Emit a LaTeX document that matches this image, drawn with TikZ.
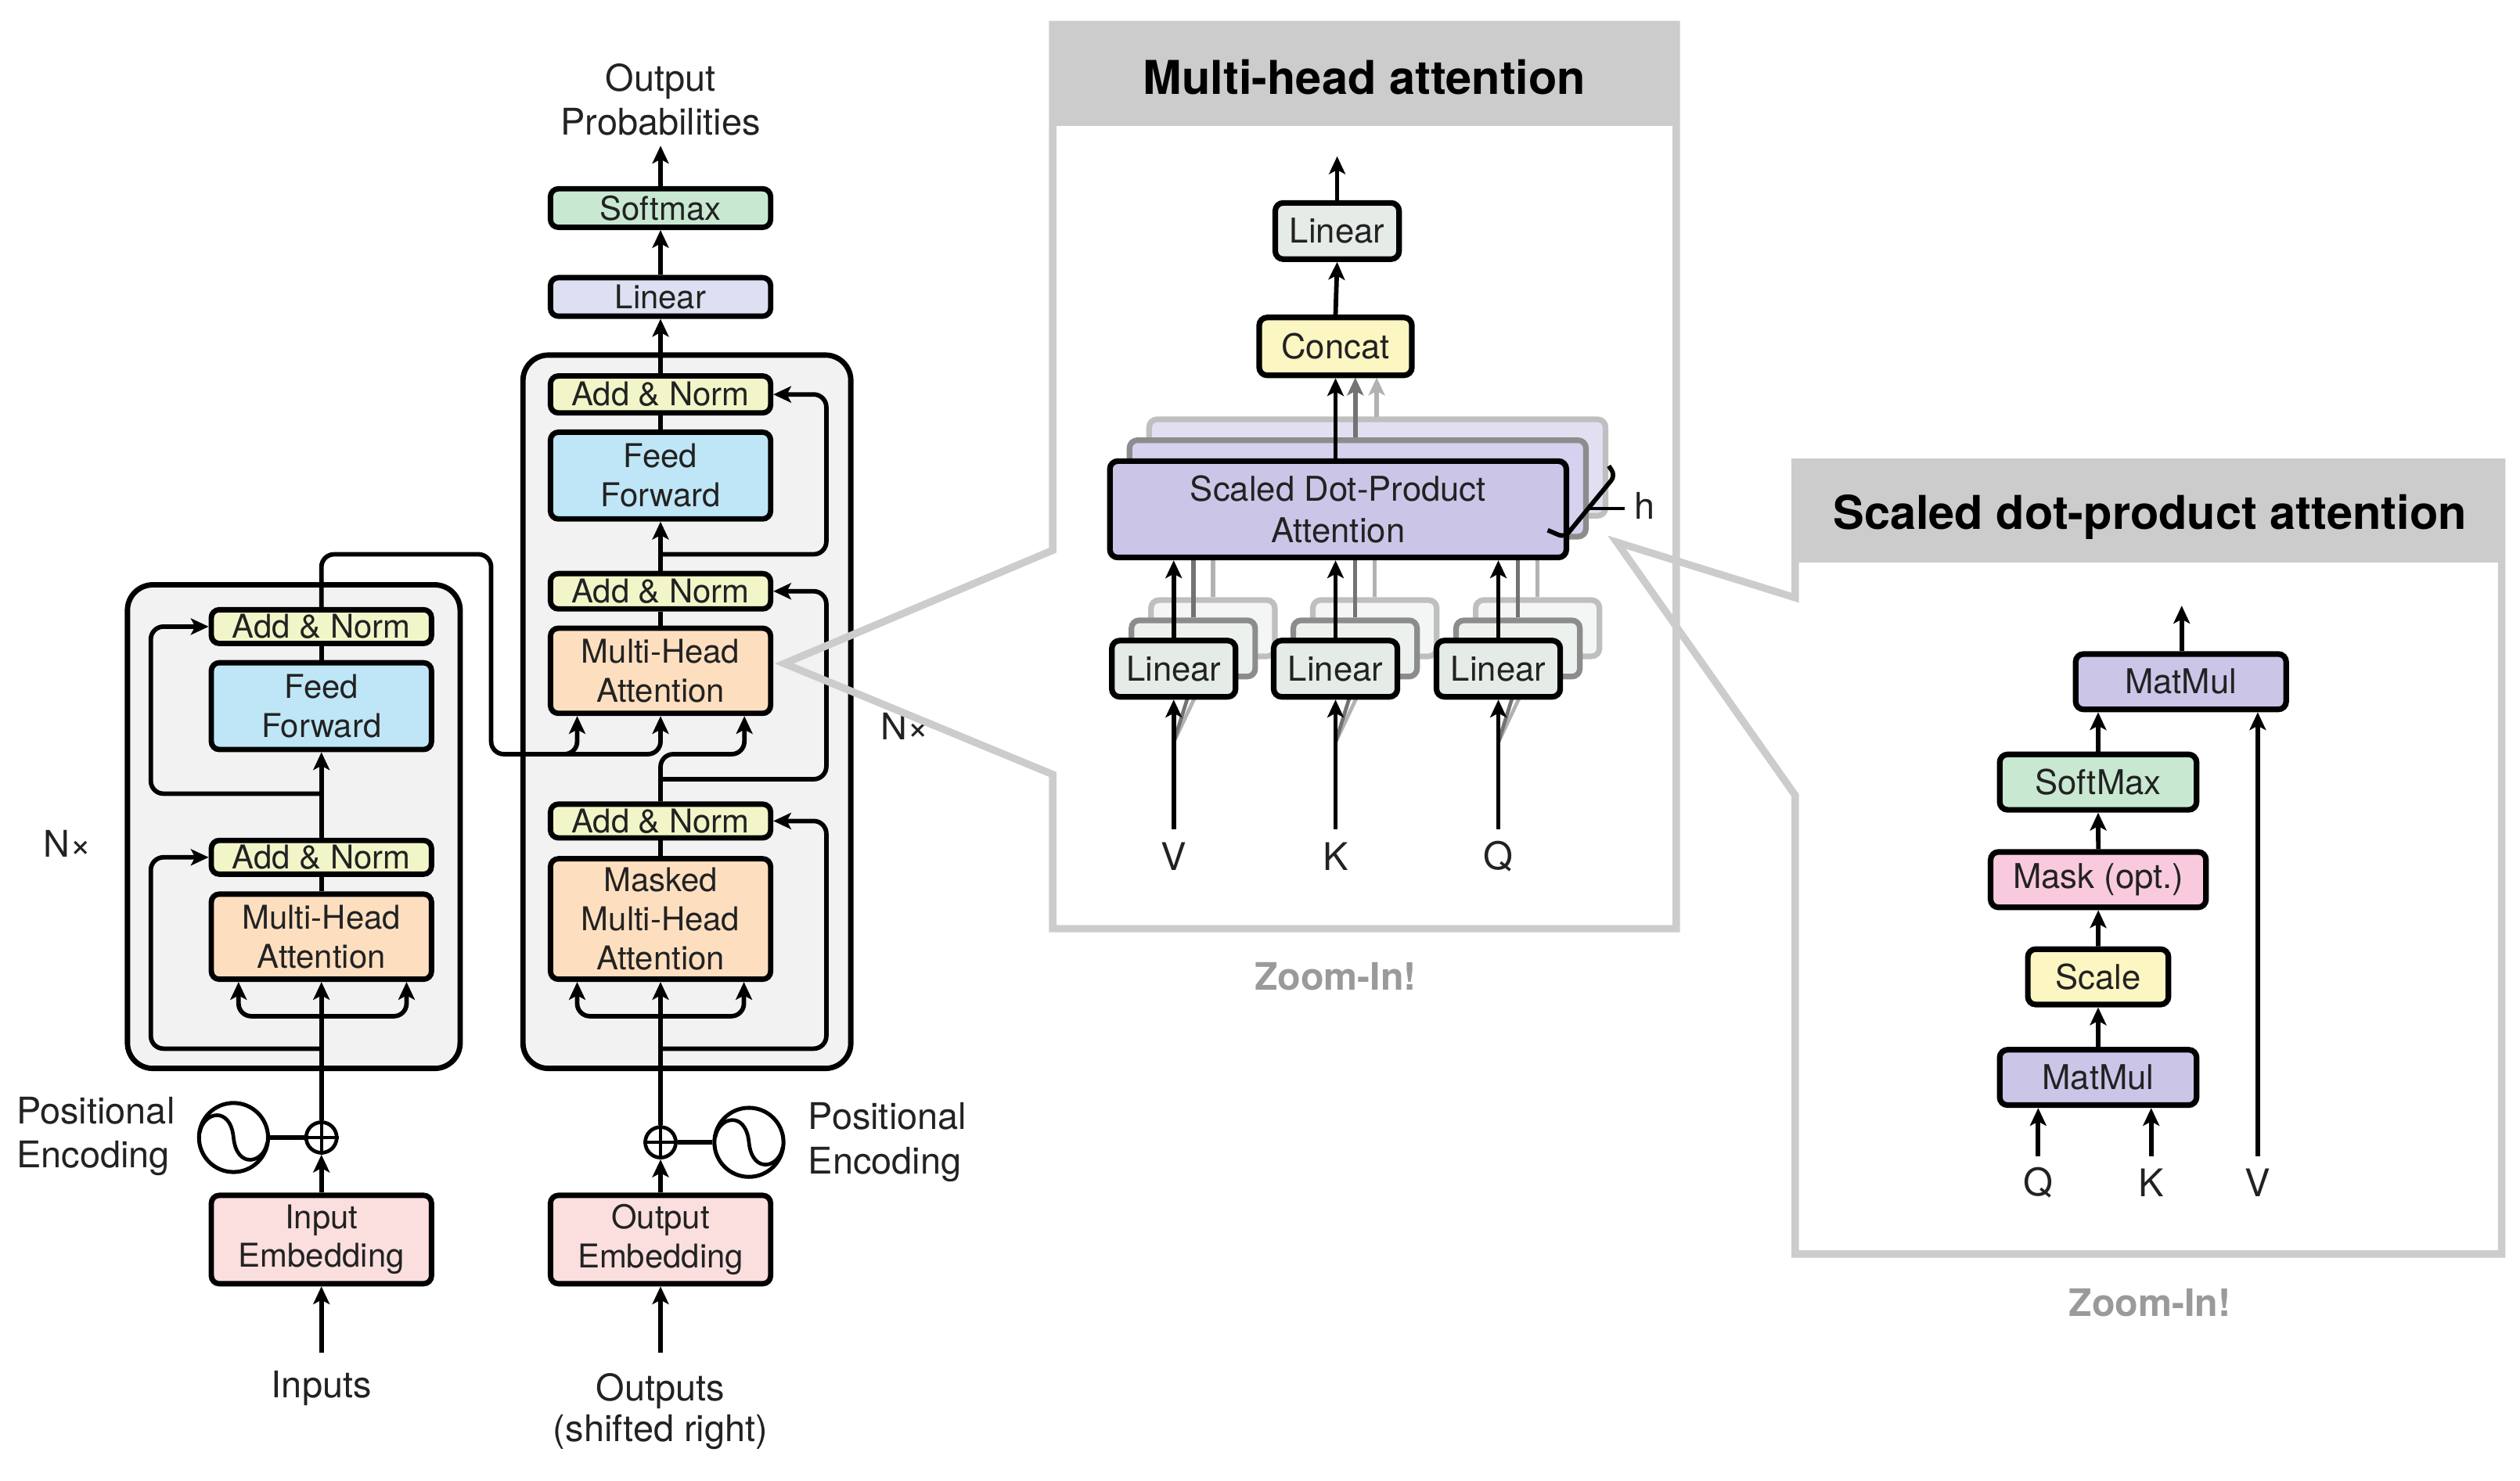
\documentclass[tikz,border=0pt]{standalone}
\usepackage{fontspec}
\setmainfont{TeX Gyre Heros}
\usetikzlibrary{arrows.meta,calc}
\definecolor{anC}{HTML}{F2F5C8}
\definecolor{ffC}{HTML}{BFE6F6}
\definecolor{mhC}{HTML}{FDDFC0}
\definecolor{emC}{HTML}{FBDEDE}
\definecolor{liC}{HTML}{DDE0F2}
\definecolor{smC}{HTML}{C8E8D2}
\definecolor{bgC}{HTML}{F2F2F2}
\definecolor{glC}{HTML}{E5EBE7}
\definecolor{ccC}{HTML}{FCF6C2}
\definecolor{sdC}{HTML}{CBC5E8}
\definecolor{sd2C}{HTML}{D6D1EE}
\definecolor{sd3C}{HTML}{E2DFF3}
\definecolor{gl2C}{HTML}{EDF1EE}
\definecolor{gl3C}{HTML}{F4F6F5}
\definecolor{mkC}{HTML}{F9CADD}
\definecolor{pnC}{HTML}{CCCCCC}
\definecolor{zmC}{HTML}{9A9A9A}
\definecolor{txC}{HTML}{222222}
\begin{document}
\begin{tikzpicture}[x=0.02cm,y=-0.02cm,
  blk/.style={draw=black, line width=1.9pt, rounded corners=2.8pt, inner sep=0pt, align=center, text=txC, font=\fontsize{11.6}{13.8}\selectfont},
  pblk/.style={blk, line width=2pt, font=\fontsize{12.1}{14.7}\selectfont},
  sh2/.style={pblk, draw=black!45},
  sh3/.style={pblk, draw=black!25},
  sz/.style 2 args={minimum width=#1*0.02cm, minimum height=#2*0.02cm},
  big/.style={draw=black, line width=1.9pt, rounded corners=9pt, fill=bgC, inner sep=0pt},
  lbl/.style={inner sep=0pt, align=center, text=txC, font=\fontsize{13}{15.6}\selectfont},
  ttl/.style={inner sep=0pt, font=\fontsize{16.5}{19}\selectfont\bfseries},
  zmt/.style={inner sep=0pt, text=zmC, font=\fontsize{13.4}{16}\selectfont\bfseries},
  tip/.style={-{Stealth[length=6.3pt,width=5.8pt,inset=1.5pt]}},
  conn/.style={line width=1.6pt, rounded corners=4.5pt},
  arr/.style={conn, tip},
  garr2/.style={line width=1.6pt, draw=black!55, tip},
  garr3/.style={line width=1.6pt, draw=black!30, tip},
  plusc/.style={draw=black, circle, line width=1.3pt, minimum size=0.38cm, inner sep=0pt},
  pec/.style={draw=black, circle, line width=1.4pt, minimum size=0.86cm, inner sep=0pt},
  panel/.style={draw=pnC, line width=2.6pt, line join=miter}
]
\useasboundingbox (0,0) rectangle (1568,921.8);
\fill[white] (0,0) rectangle (1568,921.8);

% ---------------- Encoder ----------------
\node[big, sz={207}{301}] (encBox) at (182.8,514.5) {};
\node[blk, fill=anC, sz={137}{21}] (encAN2) at (200,390) {Add \& Norm};
\node[blk, fill=ffC, sz={137}{54}] (encFF) at (200,439.5) {Feed\\Forward};
\node[blk, fill=anC, sz={137}{21}] (encAN1) at (200,533.6) {Add \& Norm};
\node[blk, fill=mhC, sz={137}{53}] (encMHA) at (200,583) {Multi-Head\\Attention};
\node[blk, fill=emC, sz={137}{55}] (encEmb) at (200,771.5) {Input\\Embedding};
\node[plusc] (encPlus) at (200,708) {};
\node[pec] (encPE) at (145.3,708) {};
\draw[line width=1pt] (encPlus.north) -- (encPlus.south) (encPlus.west) -- (encPlus.east);
\draw[line width=1.3pt] ($(encPE)+(-21,-3)$) .. controls ($(encPE)+(-19,-16)$) and ($(encPE)+(-2,-20)$) .. (encPE.center) .. controls ($(encPE)+(2,20)$) and ($(encPE)+(19,16)$) .. ($(encPE)+(21,3)$);
\node[lbl] (inLbl) at (200,864) {Inputs};
\node[lbl, anchor=west, align=left] (encPEl) at (10,707.3) {Positional\\Encoding};
\node[lbl] (encNx) at (42,525) {N×};

\coordinate (inS) at (200,842);
\draw[arr] (inS) -- (encEmb.south);
\draw[arr] (encEmb.north) -- (encPlus.south);
\draw[line width=1.7pt] (encPE.east) -- (encPlus.west);
\draw[arr] (encPlus.north) -- (encMHA.south);
\coordinate (encJ1) at (200,632.5);
\draw[arr] (encJ1) -| ([xshift=0.372cm]encMHA.south west);
\draw[arr] (encJ1) -| ([xshift=-0.344cm]encMHA.south east);
\coordinate (encJ2) at (200,652.7);
\draw[arr] (encJ2) -| ($(encAN1.west)+(-36,0)$) -- (encAN1.west);
\draw[conn] (encMHA.north) -- (encAN1.south);
\draw[arr] (encAN1.north) -- (encFF.south);
\coordinate (encJ3) at (200,494);
\draw[arr] (encJ3) -| ($(encAN2.west)+(-36,0)$) -- (encAN2.west);
\draw[conn] (encFF.north) -- (encAN2.south);

% ---------------- Decoder ----------------
\node[big, sz={204}{444}] (decBox) at (427.4,443) {};
\node[blk, fill=liC, sz={137}{24}] (decLin) at (411,184.8) {Linear};
\node[blk, fill=smC, sz={137}{24}] (decSoft) at (411,129.5) {Softmax};
\node[blk, fill=anC, sz={137}{23}] (decAN3) at (411,245.5) {Add \& Norm};
\node[blk, fill=ffC, sz={137}{54}] (decFF) at (411,296) {Feed\\Forward};
\node[blk, fill=anC, sz={137}{22}] (decAN2) at (411,368) {Add \& Norm};
\node[blk, fill=mhC, sz={137}{53}] (decMHA) at (411,417.5) {Multi-Head\\Attention};
\node[blk, fill=anC, sz={137}{21}] (decAN1) at (411,511) {Add \& Norm};
\node[blk, fill=mhC, sz={137}{75}] (decMMHA) at (411,572) {Masked\\Multi-Head\\Attention};
\node[blk, fill=emC, sz={137}{55}] (decEmb) at (411,771.5) {Output\\Embedding};
\node[plusc] (decPlus) at (411,711) {};
\node[pec] (decPE) at (466,711) {};
\draw[line width=1pt] (decPlus.north) -- (decPlus.south) (decPlus.west) -- (decPlus.east);
\draw[line width=1.3pt] ($(decPE)+(-21,-3)$) .. controls ($(decPE)+(-19,-16)$) and ($(decPE)+(-2,-20)$) .. (decPE.center) .. controls ($(decPE)+(2,20)$) and ($(decPE)+(19,16)$) .. ($(decPE)+(21,3)$);
\node[lbl] (outLbl) at (411,878.5) {Outputs\\[-1.2pt](shifted right)};
\node[lbl] (probLbl) at (411,62) {Output\\Probabilities};
\node[lbl, anchor=west, align=left] (decPEl) at (502.6,711) {Positional\\Encoding};
\node[lbl] (decNx) at (563,452) {N×};

\coordinate (outS) at (411,842);
\draw[arr] (outS) -- (decEmb.south);
\draw[arr] (decEmb.north) -- (decPlus.south);
\draw[line width=1.7pt] (decPE.west) -- (decPlus.east);
\draw[arr] (decPlus.north) -- (decMMHA.south);
\coordinate (decJ1) at (411,632.5);
\draw[arr] (decJ1) -| ([xshift=0.366cm]decMMHA.south west);
\draw[arr] (decJ1) -| ([xshift=-0.366cm]decMMHA.south east);
\coordinate (decJ2) at (411,652.7);
\draw[arr] (decJ2) -| ($(decAN1.east)+(33,0)$) -- (decAN1.east);
\draw[conn] (decMMHA.north) -- (decAN1.south);
\coordinate (decJ3) at (440,469.4);
\draw[arr] (decAN1.north) |- (decJ3) -| ([xshift=-0.36cm]decMHA.south east);
\coordinate (decJ4) at (411,485);
\draw[arr] (decJ4) -| ($(decAN2.east)+(33,0)$) -- (decAN2.east);
\draw[conn] (decMHA.north) -- (decAN2.south);
\draw[arr] (decAN2.north) -- (decFF.south);
\coordinate (decJ5) at (411,345);
\draw[arr] (decJ5) -| ($(decAN3.east)+(33,0)$) -- (decAN3.east);
\draw[conn] (decFF.north) -- (decAN3.south);
\draw[arr] (decAN3.north) -- (decLin.south);
\draw[arr] (decLin.north) -- (decSoft.south);
\coordinate (probS) at (411,90.7);
\draw[arr] (decSoft.north) -- (probS);

% encoder -> decoder
\coordinate (crossA) at (305.6,345);
\coordinate (crossB) at (305.6,469.4);
\draw[arr] (encAN2.north) |- (crossA) -- (crossB) -| ([xshift=0.366cm]decMHA.south west);
\coordinate (crossC) at (340,469.4);
\draw[arr] (crossC) -| (decMHA.south);

% ---------------- Multi-head attention panel ----------------
\fill[pnC] (655,15.3) rectangle (1043,78.6);
\draw[panel] (655,342.5) -- (655,15.3) -- (1043,15.3) -- (1043,578) -- (655,578) -- (655,482) -- (488,413) -- cycle;
\node[ttl] (mhTitle) at (849,48) {Multi-head attention};

\node[sh3, fill=sd3C, sz={284}{60}] (sdpa3) at (857,291) {};
\node[sh2, fill=sd2C, sz={284}{60}] (sdpa2) at (844.8,304) {};
\coordinate (gc3a) at (856.6,259.4);
\coordinate (gc3b) at (856.6,235);
\coordinate (gc2a) at (843.3,272.4);
\coordinate (gc2b) at (843.3,235);
\draw[garr3] (gc3a) -- (gc3b);
\draw[garr2] (gc2a) -- (gc2b);

\foreach \x/\n in {730.3/V,831/K,932.3/Q}{
  \node[sh3, fill=gl3C, sz={77}{35}] (lin\n3) at (\x+24.4,391) {};
  \node[sh2, fill=gl2C, sz={77}{35}] (lin\n2) at (\x+12.2,403.6) {};
  \draw[line width=1.5pt, black!30] (lin\n3.north) -- (\x+24.4,325);
  \draw[line width=1.5pt, black!55] (lin\n2.north) -- (\x+12.2,338);
  \draw[line width=1.3pt, black!30] (\x,462) -- (lin\n3.south);
  \draw[line width=1.3pt, black!55] (\x,462) -- (lin\n2.south);
  \node[pblk, fill=glC, sz={77}{35}] (lin\n) at (\x,416.2) {Linear};
}
\node[pblk, fill=sdC, sz={284}{60}] (sdpa) at (832.6,317) {Scaled Dot-Product\\Attention};
\node[pblk, fill=ccC, sz={95}{36}] (concat) at (831,215.6) {Concat};
\node[pblk, fill=glC, sz={77}{35}] (linTop) at (832,143.8) {Linear};

\draw[line width=1.6pt, rounded corners=2.2pt] (963,330) -- (973.5,334.5) -- (1005,296) -- (1001,290);
\draw[line width=1.1pt] (988,316.4) -- (1011,316.4);
\node[lbl] (hLbl) at (1023.5,315) {h};

\node[lbl, font=\fontsize{13.5}{16}\selectfont] (vLbl) at (730.3,533) {V};
\node[lbl, font=\fontsize{13.5}{16}\selectfont] (kLbl) at (831,533) {K};
\node[lbl, font=\fontsize{13.5}{16}\selectfont] (qLbl) at (932.3,533) {Q};
\coordinate (vIn) at (730.3,516);
\coordinate (kIn) at (831,516);
\coordinate (qIn) at (932.3,516);
\draw[arr] (vIn) -- (linV.south);
\draw[arr] (kIn) -- (linK.south);
\draw[arr] (qIn) -- (linQ.south);
\draw[arr] (linV.north) -- (linV.north |- sdpa.south);
\draw[arr] (linK.north) -- (linK.north |- sdpa.south);
\draw[arr] (linQ.north) -- (linQ.north |- sdpa.south);
\draw[arr] (sdpa.north -| concat.south) -- (concat.south);
\draw[arr] (concat.north) -- (linTop.south);
\coordinate (mhOut) at (832,97.3);
\draw[arr] (linTop.north) -- (mhOut);
\node[zmt] (zoom1) at (831,608) {Zoom-In!};

% ---------------- Scaled dot-product attention panel ----------------
\fill[pnC] (1117,287.7) rectangle (1556.6,350);
\draw[panel] (1117,372) -- (1117,287.7) -- (1556.6,287.7) -- (1556.6,780.5) -- (1117,780.5) -- (1117,495) -- (1006,337.5) -- cycle;
\node[ttl] (sdTitle) at (1337.7,322) {Scaled dot-product attention};

\node[pblk, fill=sdC, sz={131}{34.5}] (mmTop) at (1357,424.3) {MatMul};
\node[pblk, fill=smC, sz={122.5}{34.5}] (smx) at (1305.5,486.8) {SoftMax};
\node[pblk, fill=mkC, sz={134}{34.5}] (mask) at (1305.6,547.5) {Mask (opt.)};
\node[pblk, fill=ccC, sz={87.5}{34.5}] (scl) at (1305.5,608) {Scale};
\node[pblk, fill=sdC, sz={122.5}{34.5}] (mmBot) at (1305.5,670.6) {MatMul};
\node[lbl, font=\fontsize{13.5}{16}\selectfont] (q2Lbl) at (1268.2,736) {Q};
\node[lbl, font=\fontsize{13.5}{16}\selectfont] (k2Lbl) at (1338.5,736) {K};
\node[lbl, font=\fontsize{13.5}{16}\selectfont] (v2Lbl) at (1404.8,736) {V};
\coordinate (q2In) at (1268.2,719.8);
\coordinate (k2In) at (1338.5,719.8);
\coordinate (v2In) at (1404.8,719.8);
\coordinate (sdOut) at (1357.5,377);
\draw[arr] (q2In) -- (q2In |- mmBot.south);
\draw[arr] (k2In) -- (k2In |- mmBot.south);
\draw[arr] (v2In) -- (v2In |- mmTop.south);
\draw[arr] (mmBot.north) -- (scl.south);
\draw[arr] (scl.north) -- (mask.south);
\draw[arr] (mask.north) -- (smx.south);
\draw[arr] (smx.north) -- (smx.north |- mmTop.south);
\draw[arr] (mmTop.north -| sdOut) -- (sdOut);
\node[zmt] (zoom2) at (1337.7,811) {Zoom-In!};
\end{tikzpicture}
\end{document}
